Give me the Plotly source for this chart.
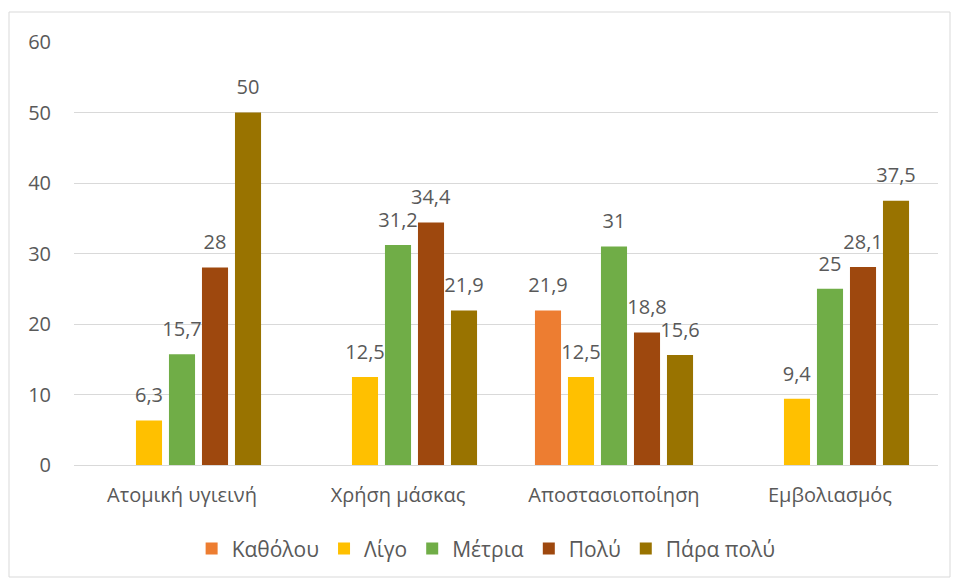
import plotly.graph_objects as go

categories = ["Ατομική υγιεινή", "Χρήση μάσκας", "Αποστασιοποίηση", "Εμβολιασμός"]
series_names = ["Καθόλου", "Λίγο", "Μέτρια", "Πολύ", "Πάρα πολύ"]
katholou = [None, None, 21.9, None]
ligo = [6.3, 12.5, 12.5, 9.4]
metria = [15.7, 31.2, 31, 25]
poly = [28, 34.4, 18.8, 28.1]
para_poly = [50, 21.9, 15.6, 37.5]
colors = ["#ED7D31", "#FFC000", "#70AD47", "#9E480E", "#997300"]

font_family = "Open Sans"
grey = "#595959"
fs = 20
label_pad = 1.3  # gap between bar top and its label, in axis units

fig = go.Figure()
for i, (name, vals, col) in enumerate(zip(series_names, [katholou, ligo, metria, poly, para_poly], colors)):
    fig.add_trace(go.Bar(
        x=categories, y=vals, name=name, marker=dict(color=col, line=dict(width=0)),
        offsetgroup=str(i), hoverinfo="x+y",
    ))
    # transparent spacer carrying the data label a little above the bar
    labels = ["" if v is None else f"{v:g}".replace(".", ",") for v in vals]
    fig.add_trace(go.Bar(
        x=categories, y=[None if v is None else label_pad for v in vals], base=vals,
        offsetgroup=str(i), marker=dict(color="rgba(0,0,0,0)", line=dict(width=0)),
        showlegend=False, hoverinfo="skip",
        text=labels, textposition="outside", cliponaxis=False,
        textfont=dict(size=fs, color=grey, family=font_family),
    ))

# chart border
L, R, T, B = 74, 938, 42, 465
W, H = R - L, B - T
fig.add_shape(type="rect", xref="paper", yref="paper",
              x0=(9 - L) / W, x1=(950 - L) / W,
              y0=(B - 577) / H, y1=(B - 12) / H,
              line=dict(color="#D9D9D9", width=1), fillcolor="rgba(0,0,0,0)", layer="below")

fig.update_layout(
    barmode="group", bargap=0.236, bargroupgap=0.21,
    width=957, height=583,
    margin=dict(l=L, r=957 - R, t=T, b=583 - B),
    plot_bgcolor="white", paper_bgcolor="white",
    font=dict(family=font_family, size=fs, color=grey),
    showlegend=True,
    legend=dict(orientation="h", x=0.477, xanchor="center", y=-0.15, yanchor="top",
                font=dict(size=21, color=grey), itemwidth=30, tracegroupgap=0),
    uniformtext=dict(minsize=fs, mode="show"),
)
fig.update_yaxes(range=[0, 60], dtick=10, showgrid=True, gridcolor="#D9D9D9", gridwidth=1,
                 zeroline=False, showline=False, ticks="", ticklabelstandoff=22,
                 tickfont=dict(size=fs, color=grey))
fig.update_xaxes(showline=True, linecolor="#D9D9D9", linewidth=1, ticks="",
                 tickfont=dict(size=fs, color=grey), ticklabelstandoff=12)

fig.write_html("out.html", config={"displayModeBar": False},
               post_script="document.body.style.margin='0';")
